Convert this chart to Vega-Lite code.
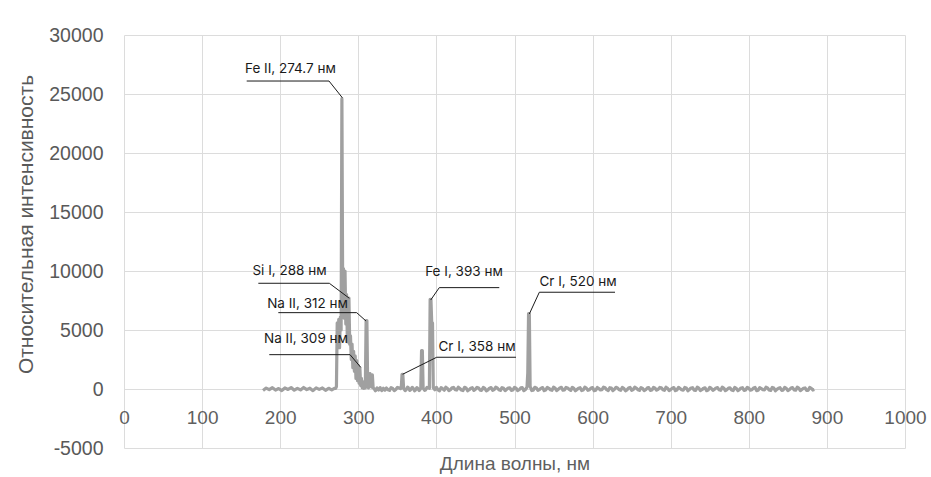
{
 "$schema": "https://vega.github.io/schema/vega-lite/v6.json",
 "width": 781,
 "height": 413,
 "autosize": {"type": "none"},
 "padding": {"left": 124, "top": 35, "right": 26, "bottom": 29},
 "background": "white",
 "config": {"view": {"stroke": null}},
 "datasets": {
  "spec": [
   {"nm":178,"v":-120},{"nm":182,"v":80},{"nm":186,"v":-60},{"nm":190,"v":110},{"nm":194,"v":-90},{"nm":198,"v":40},{"nm":202,"v":-130},{"nm":206,"v":90},{"nm":210,"v":-40},{"nm":214,"v":120},{"nm":218,"v":-100},{"nm":222,"v":60},{"nm":226,"v":-80},{"nm":230,"v":130},{"nm":234,"v":-50},{"nm":238,"v":70},{"nm":242,"v":-140},{"nm":246,"v":100},{"nm":250,"v":-30},{"nm":254,"v":90},{"nm":258,"v":-110},{"nm":262,"v":60},{"nm":266,"v":-70},{"nm":270,"v":80},
   {"nm":271,"v":50},{"nm":272,"v":200},{"nm":273,"v":5600},{"nm":274,"v":4000},{"nm":275,"v":5900},{"nm":276,"v":3500},{"nm":277,"v":6100},{"nm":278,"v":5000},{"nm":279,"v":24600},{"nm":280,"v":8000},{"nm":281,"v":10200},{"nm":282,"v":6000},{"nm":283,"v":10000},{"nm":284,"v":5500},{"nm":285,"v":8000},{"nm":286,"v":4000},{"nm":287,"v":7000},{"nm":288,"v":7700},{"nm":289,"v":3800},{"nm":290,"v":4500},{"nm":291,"v":2500},{"nm":292,"v":3800},{"nm":293,"v":1800},{"nm":294,"v":3200},{"nm":295,"v":1500},{"nm":296,"v":2800},{"nm":297,"v":900},{"nm":298,"v":2400},{"nm":299,"v":700},{"nm":300,"v":2000},{"nm":301,"v":500},{"nm":302,"v":1800},{"nm":303,"v":300},{"nm":304,"v":900},{"nm":305,"v":100},{"nm":306,"v":600},{"nm":307,"v":50},{"nm":308,"v":200},{"nm":309,"v":100},{"nm":310,"v":5800},{"nm":311,"v":5800},{"nm":312,"v":200},{"nm":313,"v":100},{"nm":314,"v":900},{"nm":315,"v":1300},{"nm":316,"v":1100},{"nm":317,"v":150},{"nm":318,"v":1200},{"nm":319,"v":100},{"nm":320,"v":50},
   {"nm":322,"v":-150},{"nm":324,"v":90},{"nm":326,"v":-90},{"nm":328,"v":110},{"nm":330,"v":-130},{"nm":332,"v":60},{"nm":334,"v":-100},{"nm":336,"v":80},{"nm":338,"v":-60},{"nm":340,"v":-120},{"nm":342,"v":120},{"nm":344,"v":50},{"nm":346,"v":-140},{"nm":348,"v":-40},{"nm":350,"v":130},{"nm":352,"v":100},
   {"nm":354,"v":30},{"nm":355,"v":80},{"nm":356,"v":1250},{"nm":357,"v":1250},{"nm":358,"v":60},{"nm":360,"v":-140},{"nm":361,"v":-80},{"nm":363,"v":150},{"nm":364,"v":110},{"nm":366,"v":-120},{"nm":367,"v":-60},{"nm":369,"v":140},{"nm":370,"v":90},{"nm":372,"v":-150},{"nm":373,"v":-100},{"nm":375,"v":120},{"nm":376,"v":60},{"nm":378,"v":-130},{"nm":379,"v":-40},{"nm":380,"v":50},{"nm":381,"v":3250},{"nm":382,"v":3250},{"nm":383,"v":80},{"nm":385,"v":-120},{"nm":386,"v":-90},{"nm":388,"v":140},{"nm":389,"v":100},{"nm":391,"v":60},{"nm":392,"v":7600},{"nm":393,"v":7600},{"nm":394,"v":5600},{"nm":395,"v":5600},{"nm":396,"v":100},{"nm":398,"v":-60},{"nm":400,"v":140},
   {"nm":402,"v":-80},{"nm":404,"v":-150},{"nm":406,"v":120},{"nm":408,"v":20},{"nm":410,"v":-100},{"nm":412,"v":150},{"nm":414,"v":60},{"nm":416,"v":-140},{"nm":418,"v":-50},{"nm":420,"v":100},{"nm":422,"v":130},{"nm":424,"v":-60},{"nm":426,"v":-90},{"nm":428,"v":150},{"nm":430,"v":40},{"nm":432,"v":-80},{"nm":434,"v":-130},{"nm":436,"v":140},{"nm":438,"v":90},{"nm":440,"v":-150},{"nm":442,"v":-60},{"nm":444,"v":60},{"nm":446,"v":110},{"nm":448,"v":-120},{"nm":450,"v":-20},{"nm":452,"v":140},{"nm":454,"v":80},{"nm":456,"v":-90},{"nm":458,"v":-110},{"nm":460,"v":130},{"nm":462,"v":50},{"nm":464,"v":-150},{"nm":466,"v":-70},{"nm":468,"v":70},{"nm":470,"v":120},{"nm":472,"v":-110},{"nm":474,"v":-40},{"nm":476,"v":150},{"nm":478,"v":90},{"nm":480,"v":-60},{"nm":482,"v":-120},{"nm":484,"v":120},{"nm":486,"v":60},{"nm":488,"v":-140},{"nm":490,"v":-30},{"nm":492,"v":80},{"nm":494,"v":100},{"nm":496,"v":-120},{"nm":498,"v":-90},{"nm":500,"v":140},{"nm":502,"v":70},{"nm":504,"v":-130},{"nm":506,"v":-60},{"nm":508,"v":90},{"nm":510,"v":110},{"nm":512,"v":-140},{"nm":514,"v":-40},
   {"nm":516,"v":150},{"nm":517,"v":1350},{"nm":518,"v":6400},{"nm":519,"v":6400},{"nm":520,"v":200},{"nm":521,"v":60},
   {"nm":522,"v":-130},{"nm":524,"v":-100},{"nm":526,"v":140},{"nm":528,"v":90},{"nm":530,"v":-120},{"nm":532,"v":-50},{"nm":534,"v":70},{"nm":536,"v":120},{"nm":538,"v":-140},{"nm":540,"v":-80},{"nm":542,"v":130},{"nm":544,"v":60},{"nm":546,"v":-60},{"nm":548,"v":-110},{"nm":550,"v":150},{"nm":552,"v":80},{"nm":554,"v":-130},{"nm":556,"v":-30},{"nm":558,"v":90},{"nm":560,"v":140},{"nm":562,"v":-100},{"nm":564,"v":-70},{"nm":566,"v":130},{"nm":568,"v":90},{"nm":570,"v":-40},{"nm":572,"v":-120},{"nm":574,"v":140},{"nm":576,"v":50},{"nm":578,"v":-150},{"nm":580,"v":-40},{"nm":582,"v":70},{"nm":584,"v":110},{"nm":586,"v":-130},{"nm":588,"v":-90},{"nm":590,"v":150},{"nm":592,"v":70},{"nm":594,"v":-110},{"nm":596,"v":-60},{"nm":598,"v":80},{"nm":600,"v":120},{"nm":602,"v":-140},{"nm":604,"v":-100},{"nm":606,"v":130},{"nm":608,"v":40},{"nm":610,"v":-80},{"nm":612,"v":-50},{"nm":614,"v":150},{"nm":616,"v":100},{"nm":618,"v":-60},{"nm":620,"v":-130},{"nm":622,"v":110},{"nm":624,"v":80},{"nm":626,"v":-140},{"nm":628,"v":-20},{"nm":630,"v":140},{"nm":632,"v":90},{"nm":634,"v":-70},{"nm":636,"v":-110},{"nm":638,"v":130},{"nm":640,"v":60},{"nm":642,"v":-150},{"nm":644,"v":-70},{"nm":646,"v":80},{"nm":648,"v":130},{"nm":650,"v":-110},{"nm":652,"v":-40},{"nm":654,"v":150},{"nm":656,"v":80},{"nm":658,"v":-60},{"nm":660,"v":-120},{"nm":662,"v":120},{"nm":664,"v":50},{"nm":666,"v":-140},{"nm":668,"v":-60},{"nm":670,"v":90},{"nm":672,"v":110},{"nm":674,"v":-120},{"nm":676,"v":-90},{"nm":678,"v":140},{"nm":680,"v":70},{"nm":682,"v":-100},{"nm":684,"v":-30},{"nm":686,"v":130},{"nm":688,"v":100},{"nm":690,"v":-60},{"nm":692,"v":-110},{"nm":694,"v":150},{"nm":696,"v":60},{"nm":698,"v":-130},{"nm":700,"v":-50},{"nm":702,"v":70},{"nm":704,"v":120},{"nm":706,"v":-140},{"nm":708,"v":-80},{"nm":710,"v":140},{"nm":712,"v":40},{"nm":714,"v":-60},{"nm":716,"v":-100},{"nm":718,"v":130},{"nm":720,"v":90},{"nm":722,"v":-150},{"nm":724,"v":-40},{"nm":726,"v":80},{"nm":728,"v":110},{"nm":730,"v":-100},{"nm":732,"v":-120},{"nm":734,"v":150},{"nm":736,"v":70},{"nm":738,"v":-130},{"nm":740,"v":-60},{"nm":742,"v":60},{"nm":744,"v":100},{"nm":746,"v":-140},{"nm":748,"v":-90},{"nm":750,"v":140},{"nm":752,"v":50},{"nm":754,"v":-110},{"nm":756,"v":-30},{"nm":758,"v":90},{"nm":760,"v":120},{"nm":762,"v":-70},{"nm":764,"v":-110},{"nm":766,"v":150},{"nm":768,"v":80},{"nm":770,"v":-140},{"nm":772,"v":-50},{"nm":774,"v":70},{"nm":776,"v":90},{"nm":778,"v":-80},{"nm":780,"v":-130},{"nm":782,"v":130},{"nm":784,"v":60},{"nm":786,"v":-150},{"nm":788,"v":-40},{"nm":790,"v":80},{"nm":792,"v":110},{"nm":794,"v":-120},{"nm":796,"v":-80},{"nm":798,"v":140},{"nm":800,"v":70},{"nm":802,"v":-100},{"nm":804,"v":-60},{"nm":806,"v":90},{"nm":808,"v":130},{"nm":810,"v":-140},{"nm":812,"v":-100},{"nm":814,"v":120},{"nm":816,"v":40},{"nm":818,"v":-60},{"nm":820,"v":-70},{"nm":822,"v":150},{"nm":824,"v":90},{"nm":826,"v":-90},{"nm":828,"v":-120},{"nm":830,"v":130},{"nm":832,"v":80},{"nm":834,"v":-150},{"nm":836,"v":-30},{"nm":838,"v":60},{"nm":840,"v":110},{"nm":842,"v":-110},{"nm":844,"v":-90},{"nm":846,"v":140},{"nm":848,"v":60},{"nm":850,"v":-130},{"nm":852,"v":-50},{"nm":854,"v":80},{"nm":856,"v":120},{"nm":858,"v":-70},{"nm":860,"v":-100},{"nm":862,"v":150},{"nm":864,"v":70},{"nm":866,"v":-140},{"nm":868,"v":-40},{"nm":870,"v":60},{"nm":872,"v":90},{"nm":874,"v":-120},{"nm":876,"v":-110},{"nm":878,"v":130},{"nm":880,"v":60},{"nm":882,"v":-90},{"nm":884,"v":-50}
  ],
  "leaders": [
   {"id":"FeII","k":1,"nm":157.1,"v":26100},{"id":"FeII","k":2,"nm":262.5,"v":26100},{"id":"FeII","k":3,"nm":279.5,"v":24690},
   {"id":"SiI","k":1,"nm":172.0,"v":8960},{"id":"SiI","k":2,"nm":262.9,"v":8960},{"id":"SiI","k":3,"nm":288.5,"v":7690},
   {"id":"NaII312","k":1,"nm":197.6,"v":6470},{"id":"NaII312","k":2,"nm":297.9,"v":6470},{"id":"NaII312","k":3,"nm":309.9,"v":5760},
   {"id":"NaII309","k":1,"nm":186.0,"v":2910},{"id":"NaII309","k":2,"nm":289.4,"v":2910},{"id":"NaII309","k":3,"nm":303.1,"v":1840},
   {"id":"CrI358","k":1,"nm":356.8,"v":1250},{"id":"CrI358","k":2,"nm":400.4,"v":2690},{"id":"CrI358","k":3,"nm":501.9,"v":2690},
   {"id":"FeI","k":1,"nm":392.7,"v":7540},{"id":"FeI","k":2,"nm":403.7,"v":8590},{"id":"FeI","k":3,"nm":480.5,"v":8590},
   {"id":"CrI520","k":1,"nm":519.0,"v":6360},{"id":"CrI520","k":2,"nm":531.8,"v":8200},{"id":"CrI520","k":3,"nm":628.7,"v":8200}
  ],
  "labels": [
   {"t":"Fe II, 274.7 нм","nm":213.1,"v":27120},
   {"t":"Si I, 288 нм","nm":211.9,"v":10030},
   {"t":"Na II, 312 нм","nm":235.0,"v":7200},
   {"t":"Na II, 309 нм","nm":233.0,"v":4210},
   {"t":"Cr I, 358 нм","nm":452.0,"v":3530},
   {"t":"Fe I, 393 нм","nm":435.3,"v":9890},
   {"t":"Cr I, 520 нм","nm":581.3,"v":9040}
  ]
 },
 "layer": [
  {
   "data": {"name": "spec"},
   "mark": {"type": "line", "color": "#a0a0a0", "strokeWidth": 3.2, "strokeJoin": "round"},
   "encoding": {
    "x": {"field": "nm", "type": "quantitative",
     "scale": {"domain": [0, 1000], "nice": false, "zero": false},
     "axis": {"values": [0,100,200,300,400,500,600,700,800,900,1000], "labelExpr": "'' + datum.value", "offset": -59,
      "labelFlush": false, "labelOverlap": false,
      "domain": false, "ticks": false, "grid": true, "gridColor": "#dcdcdc", "gridWidth": 1,
      "labelFont": "Liberation Sans", "labelFontSize": 19, "labelColor": "#5f5f5f", "labelPadding": 19,
      "title": "Длина волны, нм", "titleFont": "Liberation Sans", "titleFontSize": 19, "titleFontWeight": "normal", "titleColor": "#5f5f5f", "titlePadding": 27}},
    "y": {"field": "v", "type": "quantitative",
     "scale": {"domain": [-5000, 30000], "nice": false, "zero": false},
     "axis": {"values": [-5000,0,5000,10000,15000,20000,25000,30000], "labelExpr": "'' + datum.value",
      "domain": false, "ticks": false, "grid": true, "gridColor": "#dcdcdc", "gridWidth": 1,
      "labelFont": "Liberation Sans", "labelFontSize": 19.5, "labelColor": "#595959", "labelPadding": 21,
      "title": "Относительная интенсивность", "titleFont": "Liberation Sans", "titleFontSize": 21, "titleFontWeight": "normal", "titleColor": "#595959", "titlePadding": 12, "titleY": 189}}
   }
  },
  {
   "data": {"name": "leaders"},
   "mark": {"type": "line", "color": "#1a1a1a", "strokeWidth": 1},
   "encoding": {
    "x": {"field": "nm", "type": "quantitative"},
    "y": {"field": "v", "type": "quantitative"},
    "detail": {"field": "id"},
    "order": {"field": "k"}
   }
  },
  {
   "data": {"name": "labels"},
   "mark": {"type": "text", "font": "Inter", "fontSize": 13.5, "color": "#1a1a1a", "align": "center", "baseline": "middle"},
   "encoding": {
    "x": {"field": "nm", "type": "quantitative"},
    "y": {"field": "v", "type": "quantitative"},
    "text": {"field": "t"}
   }
  }
 ]
}
